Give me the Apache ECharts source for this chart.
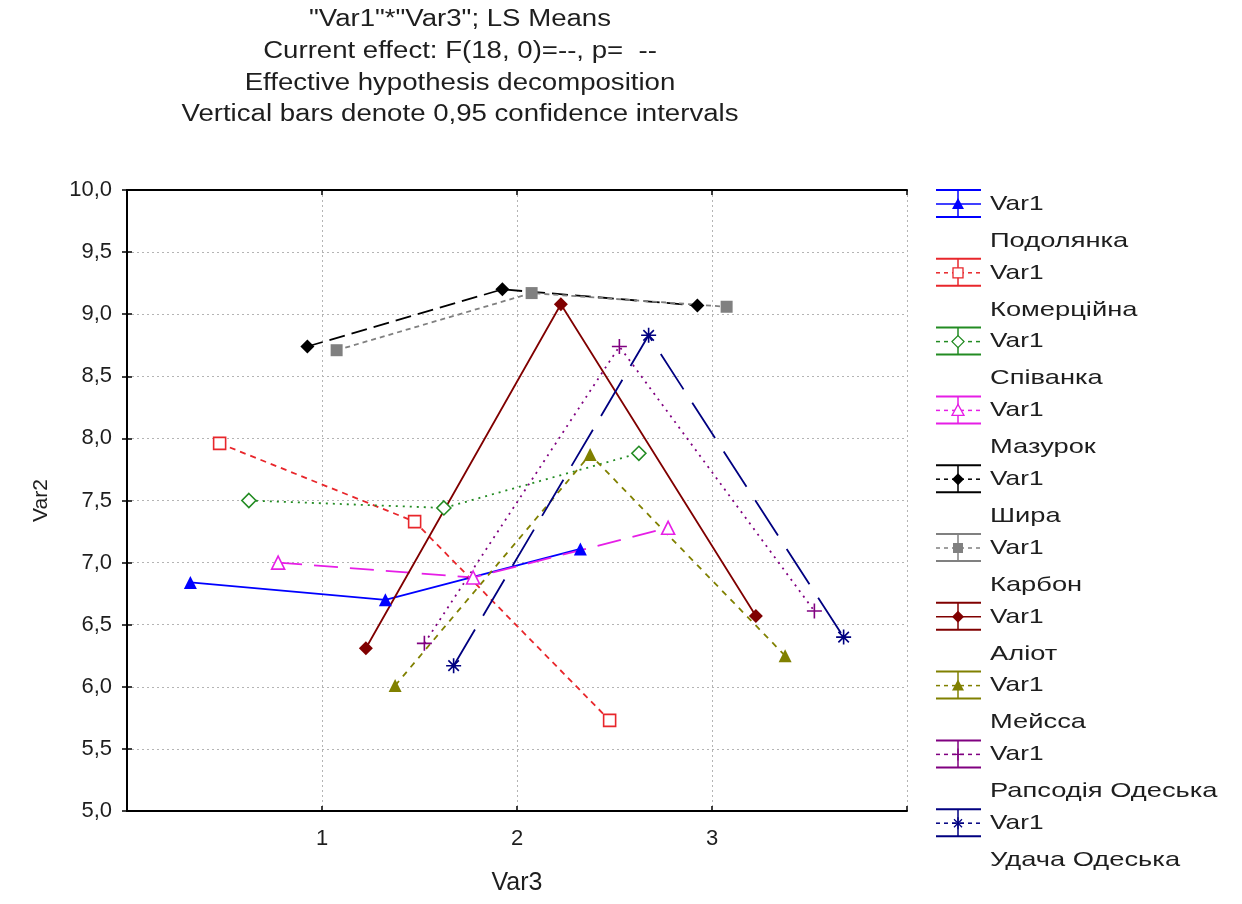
<!DOCTYPE html>
<html>
<head>
<meta charset="utf-8">
<script src="https://cdn.jsdelivr.net/npm/echarts@6/dist/echarts.min.js"></script>
<style>
  html, body { margin: 0; padding: 0; background: #fff; }
  #chart { width: 1242px; height: 904px; }
</style>
</head>
<body>
<div id="chart"></div>
<script>
// Var3 levels and the LS means of Var2 for each Var1 variety
const levels = [1, 2, 3]
const varieties = ["Подолянка", "Комерційна", "Співанка", "Мазурок", "Шира",
    "Карбон", "Аліот", "Мейсса", "Рапсодія Одеська", "Удача Одеська"]
const podolianka = [6.84, 6.70, 7.11]
const komertsiina = [7.96, 7.33, 5.73]
const spivanka = [7.50, 7.44, 7.88]
const mazurok = [7.00, 6.88, 7.28]
const shyra = [8.74, 9.20, 9.07]
const karbon = [8.71, 9.17, 9.06]
const aliot = [6.31, 9.08, 6.57]
const meissa = [6.01, 7.87, 6.25]
const rapsodiia = [6.35, 8.74, 6.61]
const udacha = [6.17, 8.83, 6.40]
const yTicks = [5, 5.5, 6, 6.5, 7, 7.5, 8, 8.5, 9, 9.5, 10]
const titleLines = [
    "\"Var1\"*\"Var3\"; LS Means",
    "Current effect: F(18, 0)=--, p=  --",
    "Effective hypothesis decomposition",
    "Vertical bars denote 0,95 confidence intervals"
]

const values = [podolianka, komertsiina, spivanka, mazurok, shyra,
    karbon, aliot, meissa, rapsodiia, udacha]

const FONT = "'Liberation Sans', Arial, sans-serif"
const TEXT = "#1e1e1e"

const PLUS = "path://M0,5L10,5M5,0L5,10"
const STAR = "path://M0,5L10,5M5,0L5,10M1.5,1.5L8.5,8.5M8.5,1.5L1.5,8.5"

// look of each variety: colour, dash, marker, filled
const styles = [
    { color: "#0000ff", dash: "solid", mark: "triangle", fill: true, size: 13 },
    { color: "#e8262b", dash: [6, 5], mark: "rect", fill: false, size: 12 },
    { color: "#228b22", dash: [2, 5], mark: "diamond", fill: false, size: 14 },
    { color: "#e61ee6", dash: [24, 12], mark: "triangle", fill: false, size: 13 },
    { color: "#000000", dash: [16, 7], mark: "diamond", fill: true, size: 14 },
    { color: "#808080", dash: [5, 4], mark: "rect", fill: true, size: 12 },
    { color: "#800000", dash: "solid", mark: "diamond", fill: true, size: 14 },
    { color: "#808000", dash: [6, 6], mark: "triangle", fill: true, size: 13 },
    { color: "#800080", dash: [2, 5], mark: PLUS, fill: false, size: 15, stroke: true },
    { color: "#000080", dash: [42, 16], mark: STAR, fill: false, size: 15, stroke: true }
]

// points of each variety are spread a little around the level
const spread = 0.15

const series = values.map((vals, i) => {
    const st = styles[i]
    const off = (i - (values.length - 1) / 2) * spread
    return {
        name: varieties[i],
        type: "line",
        data: levels.map((lv, j) => [lv + off, vals[j]]),
        symbol: st.mark,
        symbolSize: st.size,
        showSymbol: true,
        lineStyle: { color: st.color, width: 1.8, type: st.dash },
        itemStyle: {
            color: st.stroke ? "rgba(0,0,0,0)" : (st.fill ? st.color : "#fff"),
            borderColor: st.color,
            borderWidth: st.fill ? 0 : 1.6
        },
        emphasis: { disabled: true },
        z: 3
    }
})

// hand-made legend with confidence-bar icons
function marker(st, cx, cy) {
    const style = {
        fill: st.fill ? st.color : "#fff",
        stroke: st.color,
        lineWidth: st.fill ? 0 : 1.3
    }
    if (st.mark === "triangle") {
        return { type: "polygon", shape: { points: [[cx, cy - 6], [cx + 6, cy + 5], [cx - 6, cy + 5]] }, style }
    }
    if (st.mark === "rect") {
        return { type: "rect", shape: { x: cx - 5, y: cy - 5, width: 10, height: 10 }, style }
    }
    if (st.mark === "diamond") {
        return { type: "polygon", shape: { points: [[cx, cy - 6], [cx + 6, cy], [cx, cy + 6], [cx - 6, cy]] }, style }
    }
    const segs = [[-6, 0, 6, 0], [0, -6, 0, 6]]
    if (st.mark === STAR) segs.push([-4, -4, 4, 4], [4, -4, -4, 4])
    return {
        type: "group",
        children: segs.map(s => ({
            type: "line",
            shape: { x1: cx + s[0], y1: cy + s[1], x2: cx + s[2], y2: cy + s[3] },
            style: { stroke: st.color, lineWidth: 1.3 }
        }))
    }
}

// the original picture is stretched sideways, so the text is widened a bit
const wideText = (text, x, y, size, stretch, align) => ({
    type: "text", x, y, scaleX: stretch,
    style: { text, font: `${size}px ${FONT}`, fill: TEXT, textAlign: align, verticalAlign: "middle" }
})

const graphics = titleLines.map((t, k) => wideText(t, 460, 20 + k * 31.7, 23, 1.2, "center"))

varieties.forEach((name, i) => {
    const st = styles[i]
    const y = 204 + i * 68.8
    const x1 = 936, x2 = 981, xm = 958
    const line = { stroke: st.color, lineWidth: 2 }
    graphics.push(
        { type: "line", shape: { x1, y1: y - 14, x2, y2: y - 14 }, style: line },
        { type: "line", shape: { x1, y1: y + 13, x2, y2: y + 13 }, style: line },
        { type: "line", shape: { x1: xm, y1: y - 14, x2: xm, y2: y + 13 }, style: { stroke: st.color, lineWidth: 1.5 } },
        { type: "line", shape: { x1, y1: y, x2, y2: y },
          style: { stroke: st.color, lineWidth: 1.5, lineDash: st.dash === "solid" ? null : [4, 4] } },
        marker(st, xm, y),
        wideText("Var1", 990, y, 21, 1.25, "left"),
        wideText(name, 990, y + 37, 21, 1.3, "left")
    )
})

const fmt = v => v.toFixed(1).replace(".", ",")
const grid = { left: 127, top: 190, right: 335, bottom: 93 }
const frame = { show: true, lineStyle: { color: "#000", width: 2 } }
const inTicks = { show: true, inside: true, length: 5, lineStyle: { color: "#000", width: 1.5 } }
const dotted = { show: true, lineStyle: { color: "#b4b4b4", width: 1, type: [2, 3] } }

const option = {
    backgroundColor: "#fff",
    animation: false,
    grid,
    xAxis: [{
        type: "value", min: 0, max: 4, interval: 1,
        name: "Var3", nameLocation: "middle", nameGap: 60,
        nameTextStyle: { fontFamily: FONT, fontSize: 25, color: TEXT },
        axisLine: frame, axisTick: inTicks,
        axisLabel: {
            fontFamily: FONT, fontSize: 22, color: TEXT, margin: 17,
            formatter: v => levels.includes(v) ? String(v) : ""
        },
        splitLine: dotted
    }, {
        type: "value", position: "top", min: 0, max: 4, interval: 1,
        axisLine: frame, axisTick: inTicks, axisLabel: { show: false }, splitLine: { show: false }
    }],
    yAxis: [{
        type: "value", min: yTicks[0], max: yTicks[yTicks.length - 1], interval: 0.5,
        name: "Var2", nameLocation: "middle", nameGap: 75,
        nameTextStyle: { fontFamily: FONT, fontSize: 21, color: TEXT },
        axisLine: frame, axisTick: inTicks,
        axisLabel: { fontFamily: FONT, fontSize: 22, color: TEXT, margin: 15, formatter: fmt },
        splitLine: dotted
    }, {
        type: "value", position: "right", min: 5, max: 10, interval: 0.5,
        axisLine: frame, axisTick: inTicks, axisLabel: { show: false }, splitLine: { show: false }
    }],
    series,
    graphic: graphics
}

const chart = echarts.init(document.getElementById("chart"))
chart.setOption(option)
</script>
</body>
</html>
